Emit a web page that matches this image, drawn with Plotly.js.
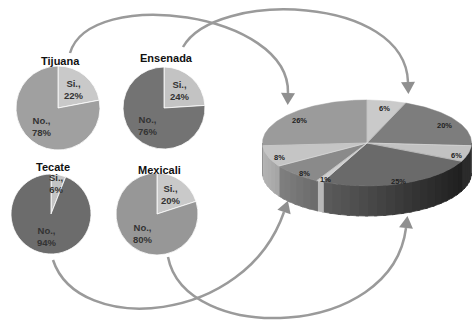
<!DOCTYPE html>
<html>
<head>
<meta charset="utf-8">
<script src="https://cdn.plot.ly/plotly-3.0.1.min.js"></script>
<style>html,body{margin:0;padding:0;background:#fff;}#chart{width:472px;height:322px;}</style>
</head>
<body>
<div id="chart"></div>
<script>
// ---- data ----
const regions = ['Tijuana', 'Ensenada', 'Tecate', 'Mexicali'];
const sliceNames = ['Si.,', 'No.,'];
const siValues = [22, 24, 6, 20];
const noValues = [78, 76, 94, 80];
const totalValues = [6, 20, 6, 25, 1, 8, 8, 26];

// ---- styles / layout ----
const W = 472, H = 322;
const pieCenters = [[58, 108], [164, 108], [51, 214], [157, 214]];
const pieRadius = [42, 41, 40, 41];
const titleY = [61, 58, 167, 170];
const siColors = ['#c9c9c9', '#c3c3c3', '#c4c4c4', '#c9c9c9'];
const noColors = ['#a0a0a0', '#737373', '#6c6c6c', '#979797'];
const topColors = ['#cacaca', '#7d7d7d', '#c2c2c2', '#6a6a6a', '#cfcfcf', '#8a8a8a', '#c5c5c5', '#9b9b9b'];
// side colours: [left, right] as grey levels
const sideColors = [[42, 42], [46, 46], [43, 43], [92, 31], [184, 184], [128, 106], [180, 164], [138, 138]];
const cx = 367, cy = 143, rx = 104.5, ry = 43, depth = 30;
const font = 'Liberation Sans, Arial, sans-serif';

const traces = [];
const annotations = [];

function arcPts(a1, a2, dy) {
  const n = Math.max(4, Math.ceil(Math.abs(a2 - a1)));
  const xs = [], ys = [];
  for (let k = 0; k <= n; k++) {
    const a = (a1 + (a2 - a1) * k / n) * Math.PI / 180;
    xs.push(cx + rx * Math.sin(a)); ys.push(cy - ry * Math.cos(a) + (dy || 0));
  }
  return [xs, ys];
}
function grey(g) { g = Math.round(g); return `rgb(${g},${g},${g})`; }

// small pies
regions.forEach((name, i) => {
  const [px, py] = pieCenters[i];
  const R = pieRadius[i];
  traces.push({
    type: 'pie', values: [siValues[i], noValues[i]], labels: sliceNames,
    sort: false, direction: 'clockwise', rotation: 0,
    marker: {colors: [siColors[i], noColors[i]], line: {color: '#ffffff', width: 0.8}},
    textinfo: 'none', hoverinfo: 'skip', showlegend: false,
    domain: {x: [(px - R) / W, (px + R) / W], y: [1 - (py + R) / H, 1 - (py - R) / H]}
  });
  annotations.push({x: px + 2, y: titleY[i], xref: 'x', yref: 'y', text: '<b>' + name + '</b>',
    showarrow: false, font: {family: font, size: 11, color: '#111'}});
  const vals = [siValues[i], noValues[i]];
  const tot = vals[0] + vals[1];
  let start = 0;
  vals.forEach((v, k) => {
    const mid = (start + v / 2) / tot * 2 * Math.PI;
    start += v;
    const rr = (v < 10 ? 0.78 : 0.58) * R;
    annotations.push({x: px + rr * Math.sin(mid), y: py - rr * Math.cos(mid), xref: 'x', yref: 'y',
      text: '<b>' + sliceNames[k] + '<br>' + v + '%</b>', showarrow: false,
      font: {family: font, size: 9.5, color: '#333'}});
  });
});

const total = totalValues.reduce((a, b) => a + b, 0);
const bounds = [];
let acc = 0;
totalValues.forEach(v => { const a1 = acc / total * 360; acc += v; bounds.push([a1, acc / total * 360]); });

// side faces, split into overlapping bands for shading
bounds.forEach(([a1, a2], i) => {
  const s = Math.max(a1, 90), e = Math.min(a2, 270);
  if (e <= s) return;
  const nb = Math.max(1, Math.ceil((e - s) / 5));
  const xl = cx + rx * Math.sin(e * Math.PI / 180), xr = cx + rx * Math.sin(s * Math.PI / 180);
  for (let b = 0; b < nb; b++) {
    const bs = Math.max(90, s + (e - s) * b / nb - 0.8);
    const be = Math.min(270, s + (e - s) * (b + 1) / nb + (b === nb - 1 ? 0.2 : 0.8));
    const [tx, ty] = arcPts(bs, be, 0);
    const [bx, by] = arcPts(be, bs, depth);
    const xm = cx + rx * Math.sin((bs + be) / 2 * Math.PI / 180);
    const t = xr > xl ? Math.min(1, Math.max(0, (xm - xl) / (xr - xl))) : 0;
    const col = grey(sideColors[i][0] + (sideColors[i][1] - sideColors[i][0]) * t);
    traces.push({type: 'scatter', x: tx.concat(bx), y: ty.concat(by), mode: 'lines', fill: 'toself',
      fillcolor: col, line: {width: 0.8, color: col}, hoverinfo: 'skip', showlegend: false});
  }
});
// top faces
const sepX = [], sepY = [];
bounds.forEach(([a1, a2], i) => {
  const [ax, ay] = arcPts(a1, a2, 0);
  traces.push({type: 'scatter', x: [cx].concat(ax, [cx]), y: [cy].concat(ay, [cy]), mode: 'lines', fill: 'toself',
    fillcolor: topColors[i], line: {width: 0.5, color: topColors[i]},
    hoverinfo: 'skip', showlegend: false});
  sepX.push(cx, ax[0], null); sepY.push(cy, ay[0], null);
  const m = (a1 + a2) / 2 * Math.PI / 180;
  const rr = 0.88;
  annotations.push({x: cx + rr * rx * Math.sin(m), y: cy - rr * ry * Math.cos(m) + 3, xref: 'x', yref: 'y',
    text: '<b>' + totalValues[i] + '%</b>', showarrow: false, font: {family: font, size: 7.5, color: '#222'}});
});
traces.push({type: 'scatter', x: sepX, y: sepY, mode: 'lines', line: {width: 0.8, color: 'rgba(225,225,225,0.7)'},
  hoverinfo: 'skip', showlegend: false});

// curved arrows (decoration)
const arrows = [
  [[70, 53], [90, -14], [290, 12], [288, 93]],
  [[183, 47], [215, -10], [405, -5], [408, 82]],
  [[53, 260], [78, 336], [245, 325], [284, 212]],
  [[168, 257], [185, 345], [392, 340], [406, 228]]
];
const shapes = [];
const arrowColor = '#9a9a9a';
arrows.forEach(([p0, p1, p2, p3]) => {
  shapes.push({type: 'path', xref: 'x', yref: 'y', layer: 'below',
    path: `M ${p0[0]},${p0[1]} C ${p1[0]},${p1[1]} ${p2[0]},${p2[1]} ${p3[0]},${p3[1]}`,
    line: {color: arrowColor, width: 2.5}});
  let dx = p3[0] - p2[0], dy = p3[1] - p2[1];
  const L = Math.hypot(dx, dy); dx /= L; dy /= L;
  const tip = [p3[0] + dx * 12, p3[1] + dy * 12];
  const nx = -dy, ny = dx;
  const b1 = [p3[0] + nx * 7, p3[1] + ny * 7], b2 = [p3[0] - nx * 7, p3[1] - ny * 7];
  shapes.push({type: 'path', xref: 'x', yref: 'y', layer: 'below',
    path: `M ${tip[0]},${tip[1]} L ${b1[0]},${b1[1]} L ${b2[0]},${b2[1]} Z`,
    fillcolor: '#8f8f8f', line: {width: 0}});
});

const layout = {
  width: W, height: H, margin: {l: 0, r: 0, t: 0, b: 0},
  paper_bgcolor: '#ffffff', plot_bgcolor: 'rgba(0,0,0,0)',
  xaxis: {range: [0, W], domain: [0, 1], visible: false, fixedrange: true},
  yaxis: {range: [H, 0], domain: [0, 1], visible: false, fixedrange: true},
  showlegend: false, shapes: shapes, annotations: annotations
};
Plotly.newPlot('chart', traces, layout, {staticPlot: true, displayModeBar: false});
</script>
</body>
</html>
